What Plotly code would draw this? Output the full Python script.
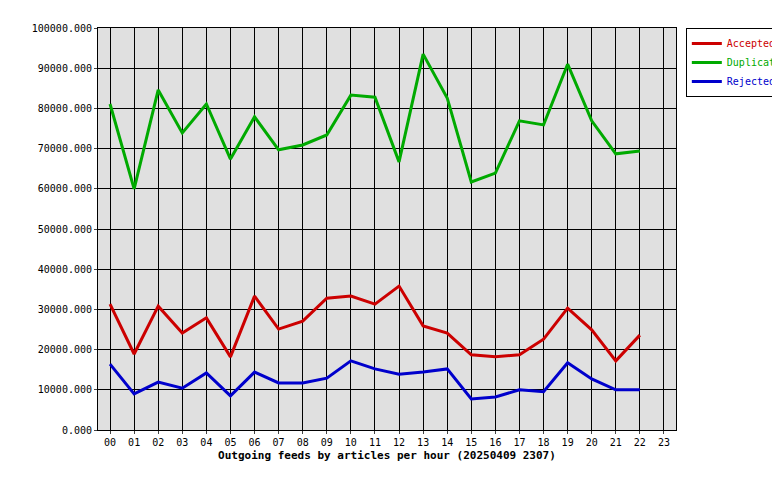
import plotly.graph_objects as go

hours = [f"{h:02d}" for h in range(24)]
accepted = [31300,18900,30800,24100,27900,18200,33300,25100,27100,32800,33300,31300,35800,25900,24100,18700,18200,18700,22600,30300,24900,17200,23600]
duplicates = [81100,60000,84600,73900,81100,67400,77900,69700,70900,73400,83300,82800,66700,93500,82600,61700,63900,76900,75900,91000,76900,68700,69400]
rejected = [16400,9000,11900,10400,14200,8500,14400,11700,11700,12900,17200,15200,13900,14400,15200,7700,8200,10000,9500,16700,12700,10000,10000]
yticks = list(range(0, 100001, 10000))

fig = go.Figure()
for name, vals, col in [("Accepted", accepted, "#cc0000"), ("Duplicates", duplicates, "#00aa00"), ("Rejected", rejected, "#0000cc")]:
    fig.add_trace(go.Scatter(x=list(range(len(vals))), y=vals, name=f"<span style='color:{col}'>{name}</span>",
                             mode="lines", line=dict(color=col, width=3)))

font = "DejaVu Sans Mono"
fig.update_layout(
    width=780, height=480, margin=dict(l=90, r=112, t=20, b=58, autoexpand=False),
    paper_bgcolor="white", plot_bgcolor="#e0e0e0",
    font=dict(family=font, size=10, color="black"),
    legend=dict(x=1.017, y=1, xanchor="left", yanchor="top", bordercolor="black", borderwidth=1,
                font=dict(size=10), itemwidth=30, tracegroupgap=0),
    xaxis=dict(range=[-0.5, 23.5], tickvals=list(range(24)), ticktext=hours, showgrid=True,
               gridcolor="black", gridwidth=1, zeroline=False, showline=True, linecolor="black", mirror=True,
               ticks="outside", ticklen=3,
               title=dict(text="<b>Outgoing feeds by articles per hour (20250409 2307)</b>", font=dict(size=11), standoff=4)),
    yaxis=dict(range=[0, 100000], tickvals=yticks, ticktext=[f"{v}.000" for v in yticks], showgrid=True,
               gridcolor="black", gridwidth=1, zeroline=False, showline=True, linecolor="black", mirror=True,
               ticks="outside", ticklen=3),
)
fig.write_html("out.html")
